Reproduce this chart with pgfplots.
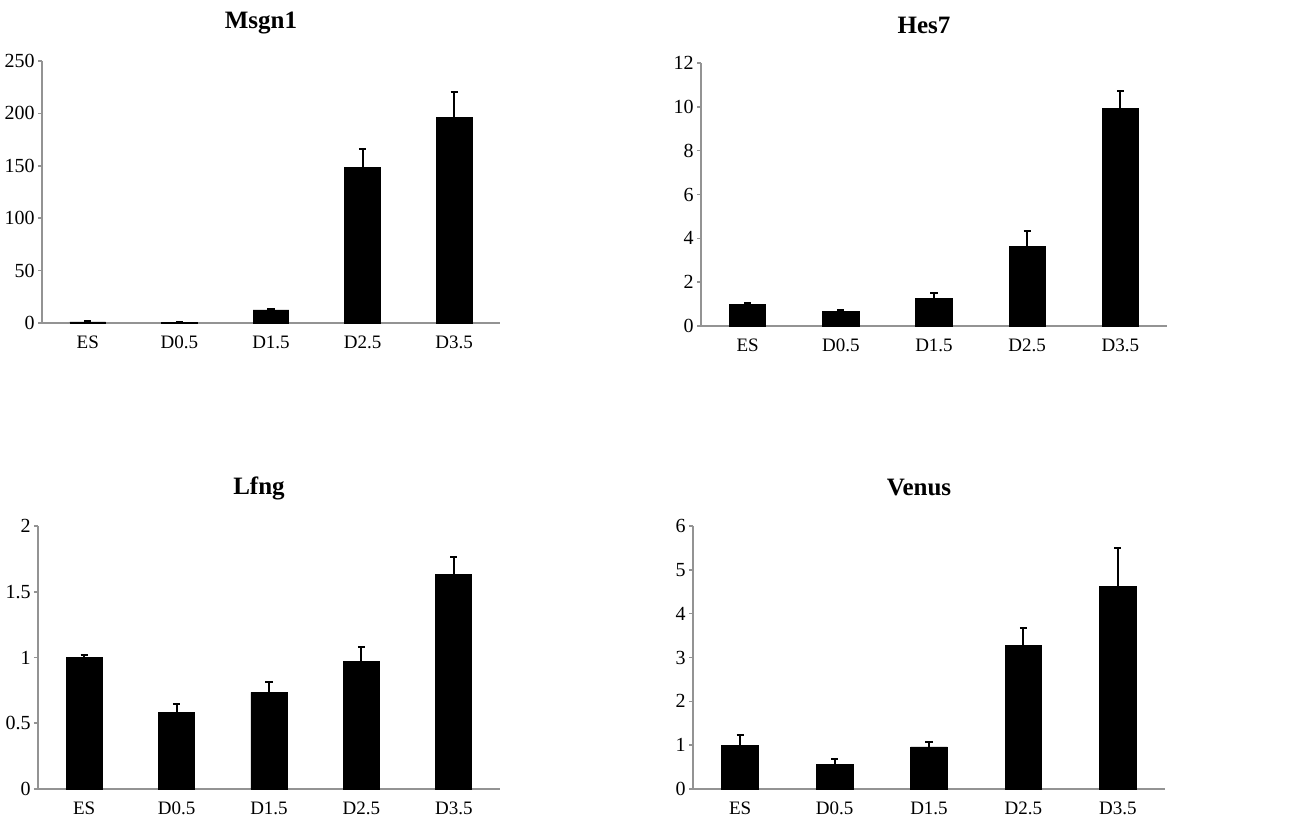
\documentclass[border=0pt]{standalone}
\usepackage{fontspec}
\setmainfont{Liberation Serif}
\usepackage{pgfplots}
\usepackage{pgfplotstable}
\pgfplotsset{compat=1.18}

\pgfplotstableread{
x y e
0 1.0 0.8
1 0.5 0.3
2 12.4 0.9
3 148.3 18.2
4 196.3 24.2
}\msgn
\pgfplotstableread{
x y e
0 0.98 0.05
1 0.66 0.07
2 1.27 0.24
3 3.61 0.73
4 9.91 0.79
}\hes
\pgfplotstableread{
x y e
0 0.999 0.02
1 0.583 0.063
2 0.735 0.081
3 0.968 0.109
4 1.630 0.134
}\lfng
\pgfplotstableread{
x y e
0 0.99 0.25
1 0.57 0.12
2 0.96 0.12
3 3.28 0.40
4 4.62 0.88
}\venus

\pgfplotsset{
  panel/.style={
    scale only axis,
    anchor=south west,
    ybar,
    ymin=0,
    xmin=-0.5, xmax=4.5,
    axis lines*=left,
    axis line style={draw=gray!85, line width=0.8pt, -},
    tick align=outside,
    major tick length=2pt,
    tick style={draw=gray!85, line width=0.8pt},
    xtick={0,1,2,3,4},
    xticklabels={ES,D0.5,D1.5,D2.5,D3.5},
    major x tick style={draw=none},
    extra x ticks={-0.5,0.5,1.5,2.5,3.5,4.5},
    extra x tick labels={},
    extra x tick style={tick style={draw=gray!85, line width=0.8pt}},
    x tick label style={font=\fontsize{9.5}{10}\selectfont, yshift=-1pt},
    y tick label style={font=\fontsize{10}{11}\selectfont, inner sep=1.5pt},
    /pgf/number format/assume math mode=true,
    every axis title shift=0pt,
    title style={font=\fontsize{12.5}{14}\selectfont\bfseries, at={(0.5,1)}, anchor=center, yshift=19pt, xshift=-5pt},
    clip=false,
  },
  barplot/.style={
    fill=black, draw=black, bar width=0.39,
    error bars/.cd, y dir=plus, y explicit,
    error bar style={line width=1pt, black},
    error mark options={line width=1pt, mark size=1.8pt, black, rotate=90},
  },
}

\begin{document}
\begin{tikzpicture}
\useasboundingbox (0,0) rectangle (645pt,409.5pt);

\begin{axis}[panel, at={(21pt,248pt)}, width=229pt, height=131pt,
  ymax=250, ytick={0,50,100,150,200,250}, title={Msgn1}]
\addplot[barplot] table[x=x,y=y,y error=e]{\msgn};
\end{axis}

\begin{axis}[panel, at={(350.5pt,246.5pt)}, width=233pt, height=131.5pt,
  ymax=12, ytick={0,2,4,6,8,10,12}, title={Hes7}]
\addplot[barplot] table[x=x,y=y,y error=e]{\hes};
\end{axis}

\begin{axis}[panel, at={(19pt,15pt)}, width=231pt, height=131.5pt,
  ymax=2, ytick={0,0.5,1,1.5,2}, title={Lfng}]
\addplot[barplot] table[x=x,y=y,y error=e]{\lfng};
\end{axis}

\begin{axis}[panel, at={(346.5pt,15pt)}, width=236pt, height=131.5pt,
  ymax=6, ytick={0,1,2,3,4,5,6}, title={Venus}]
\addplot[barplot] table[x=x,y=y,y error=e]{\venus};
\end{axis}
\end{tikzpicture}
\end{document}
